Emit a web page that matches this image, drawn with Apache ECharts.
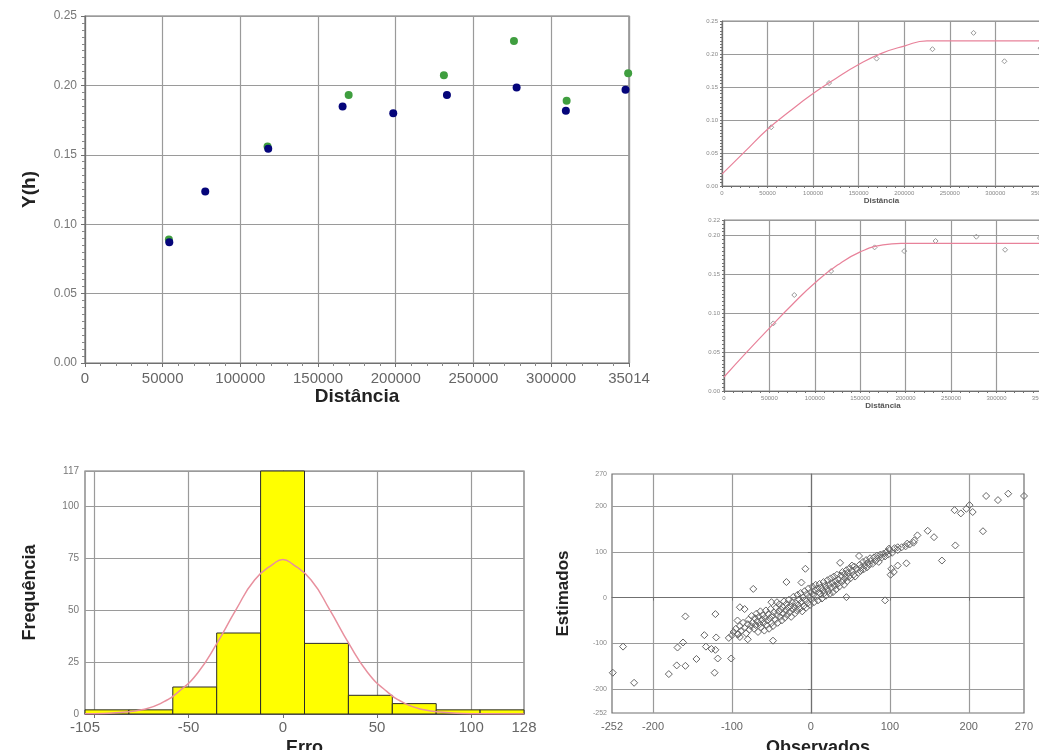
<!DOCTYPE html>
<html><head><meta charset="utf-8">
<script src="https://cdn.jsdelivr.net/npm/echarts@6/dist/echarts.min.js"></script>
<style>html,body{margin:0;padding:0;background:#fff}#c{width:1039px;height:750px}</style>
</head><body><div id="c"></div><script>
// ---- Panel 1: experimental variograms ----
const distBlue  = [54250, 77400, 117950, 165800, 198400, 232950, 277800, 309500, 347900];
const gammaBlue = [0.087, 0.1235, 0.1543, 0.1848, 0.180, 0.193, 0.1985, 0.1817, 0.1968];
const distGreen  = [54000, 117500, 169700, 231000, 276100, 310000, 349600];
const gammaGreen = [0.089, 0.156, 0.193, 0.2073, 0.232, 0.189, 0.2088];
const distMax = 350140;
const distTicks = [0, 50000, 100000, 150000, 200000, 250000, 300000];
const gammaTicks1 = [0, 0.05, 0.10, 0.15, 0.20, 0.25];

// ---- Panel 2 / 3: fitted models ----
const model2Dist  = [0, 25000, 50000, 75000, 100000, 125000, 150000, 175000, 200000, 225000, 350140];
const model2Gamma = [0.018, 0.052, 0.086, 0.114, 0.140, 0.163, 0.184, 0.201, 0.212, 0.220, 0.220];
const model3Dist  = [0, 25000, 50000, 75000, 100000, 125000, 150000, 175000, 195000, 350140];
const model3Gamma = [0.018, 0.050, 0.081, 0.111, 0.139, 0.162, 0.179, 0.188, 0.190, 0.190];

// ---- Panel 4: histogram of errors ----
const binEdges = [-105, -81.7, -58.4, -35.1, -11.8, 11.5, 34.8, 58.1, 81.4, 104.7, 128];
const binCounts = [2, 2, 13, 39, 117, 34, 9, 5, 2, 2];
const normX = [-105, -95, -85, -75, -65, -55, -45, -35, -25, -15, -5, 0, 5, 15, 25, 35, 45, 55, 65, 75, 85, 95, 105, 128];
const normY = [0.1, 0.3, 0.8, 2, 5, 11, 20, 34, 50, 64.5, 72.3, 74.4, 72.3, 64.5, 50, 34, 20, 11, 5, 2, 0.8, 0.3, 0.1, 0];
const errLabels = [-105, -50, 0, 50, 100, 128];
const errGrid = [-100, -50, 0, 50, 100];
const freqTicks = [0, 25, 50, 75, 100, 117];

// ---- Panel 5: observed vs estimated ----
const obsTicks = [-252, -200, -100, 0, 100, 200, 270];
const obsGrid = [-200, -100, 0, 100, 200];
const obsX = [
 -98,-95,-92,-90,-88,-86,-84,-82,-80,-79,-78,-76,-75,-74,-72,-71,-70,-69,-68,-67,-66,-65,-64,-63,-62,-61,-60,-59,-58,-57,-56,-55,-54,-53,-52,-51,-50,-49,-48,-47,
 -45,-44,-43,-42,-41,-40,-39,-38,-37,-36,-35,-34,-33,-32,-31,-30,-29,-28,-27,-26,-25,-24,-23,-22,-21,-20,-19,-18,-17,-16,-15,-14,-13,-12,-11,-10,-9,-8,-7,-6,-5,-4,-3,-2,-1,0,
 1,2,3,4,5,6,7,8,9,10,11,12,13,14,15,16,17,18,19,20,21,22,23,24,25,26,27,28,29,30,31,32,33,34,35,36,38,39,40,41,42,43,44,45,46,47,48,49,50,52,54,55,56,58,60,
 62,63,64,66,67,68,70,71,72,74,75,76,78,80,82,84,85,86,88,90,92,94,96,98,100,103,106,110,115,120,125,130,
 -251,-238,-224,-180,-170,-159,-169,-162,-159,-145,-135,-133,-126,-121,-121,-120,-118,-122,-104,-100,-93,-90,-80,-101,-93,-90,-84,-73,-50,-43,-48,-31,-12,-7,37,45,94,61,52,
 222,237,250,270,182,190,201,205,197,218,183,166,148,135,156,131,122,110,99,121,110,102,105,101
];
const estY = [
 -75,-68,-80,-62,-72,-55,-66,-78,-58,-48,-70,-62,-40,-55,-68,-45,-60,-35,-52,-75,-42,-58,-30,-65,-48,-38,-55,-72,-44,-28,-60,-50,-36,-68,-45,-25,-56,-40,-62,-32,
 -48,-22,-38,-55,-30,-15,-42,-26,-50,-20,-35,-8,-44,-28,-14,-38,-22,-5,-32,-18,-42,-10,-26,2,-20,-34,-12,-28,6,-16,-4,-24,10,-10,-30,0,-18,14,-6,-22,8,-12,20,2,-16,12,
 -4,24,6,-10,16,28,2,20,-6,12,30,8,22,-2,16,34,10,26,4,20,38,14,28,8,42,22,32,12,46,26,36,18,50,30,40,24,48,34,56,38,28,52,44,60,36,54,46,64,42,58,50,68,46,62,54,
 72,58,66,78,62,70,82,66,76,72,86,80,74,88,80,92,86,78,94,88,96,90,100,94,104,98,108,104,110,112,116,120,
 -164,-107,-186,-167,-148,-149,-109,-98,-41,-134,-82,-107,-112,-114,-36,-87,-133,-164,-88,-82,-80,-86,-91,-133,-50,-21,-25,19,-10,-10,-94,34,33,63,76,1,-6,91,70,
 222,213,227,222,191,184,202,187,194,145,114,81,146,136,132,125,118,110,107,75,70,63,56,50
];

const FONT = 'Liberation Sans, Arial, sans-serif';
const GRID_LINE = {show: true, lineStyle: {color: '#9a9a9a', width: 1.2}};
const AXIS_LINE = {show: true, lineStyle: {color: '#707070', width: 1.2}};

function pairs(xs, ys) { return xs.map((x, i) => [x, ys[i]]); }

const chart = echarts.init(document.getElementById('c'), null, {renderer: 'canvas'});

const option = {
  backgroundColor: '#ffffff',
  animation: false,
  textStyle: {fontFamily: FONT},
  grid: [
    {left: 85, top: 16, width: 544, height: 347, show: true, borderColor: '#707070', borderWidth: 1.2, outerBoundsMode: 'none', containLabel: false},
    {left: 722, top: 21, width: 319, height: 165, show: true, borderColor: '#8a8a8a', borderWidth: 1, outerBoundsMode: 'none', containLabel: false},
    {left: 724, top: 220, width: 318, height: 171, show: true, borderColor: '#8a8a8a', borderWidth: 1, outerBoundsMode: 'none', containLabel: false},
    {left: 85, top: 471, width: 439, height: 243, show: true, borderColor: '#707070', borderWidth: 1.2, outerBoundsMode: 'none', containLabel: false},
    {left: 612, top: 474, width: 412, height: 239, show: true, borderColor: '#707070', borderWidth: 1.2, outerBoundsMode: 'none', containLabel: false}
  ],
  xAxis: [
    {gridIndex: 0, type: 'value', min: 0, max: distMax, interval: 50000,
     axisLine: AXIS_LINE, splitLine: GRID_LINE,
     axisTick: {show: true, length: 4, lineStyle: {color: '#707070'}},
     minorTick: {show: true, splitNumber: 5, length: 3, lineStyle: {color: '#888'}},
     axisLabel: {fontSize: 15, color: '#666', margin: 8,
       formatter: v => v === distMax ? '35014' : (v === 350000 ? '' : String(v))},
     name: 'Distância', nameLocation: 'middle', nameGap: 22,
     nameTextStyle: {fontSize: 19, fontWeight: 'bold', color: '#222'}},
    {gridIndex: 1, type: 'value', min: 0, max: distMax, interval: 50000,
     axisLine: AXIS_LINE, splitLine: GRID_LINE,
     axisTick: {show: true, length: 2}, minorTick: {show: true, splitNumber: 5, length: 2},
     axisLabel: {fontSize: 6, color: '#888', margin: 4,
       formatter: v => v === distMax ? '' : String(v)},
     name: 'Distância', nameLocation: 'middle', nameGap: 11,
     nameTextStyle: {fontSize: 8, fontWeight: 'bold', color: '#555'}},
    {gridIndex: 2, type: 'value', min: 0, max: distMax, interval: 50000,
     axisLine: AXIS_LINE, splitLine: GRID_LINE,
     axisTick: {show: true, length: 2}, minorTick: {show: true, splitNumber: 5, length: 2},
     axisLabel: {fontSize: 6, color: '#888', margin: 4,
       formatter: v => v === distMax ? '' : String(v)},
     name: 'Distância', nameLocation: 'middle', nameGap: 10,
     nameTextStyle: {fontSize: 8, fontWeight: 'bold', color: '#555'}},
    {gridIndex: 3, type: 'value', min: -105, max: 128,
     axisLine: AXIS_LINE, splitLine: GRID_LINE,
     axisTick: {show: true, length: 4, customValues: errGrid},
     axisLabel: {fontSize: 15, color: '#666', margin: 6, customValues: errLabels},
     name: 'Erro', nameLocation: 'middle', nameGap: 25,
     nameTextStyle: {fontSize: 18, fontWeight: 'bold', color: '#222'}},
    {gridIndex: 4, type: 'value', min: -252, max: 270,
     axisLine: AXIS_LINE, splitLine: GRID_LINE,
     axisTick: {show: true, length: 3, customValues: obsGrid},
     axisLabel: {fontSize: 11, color: '#666', margin: 8, customValues: obsTicks},
     name: 'Observados', nameLocation: 'middle', nameGap: 26,
     nameTextStyle: {fontSize: 18, fontWeight: 'bold', color: '#222'}}
  ],
  yAxis: [
    {gridIndex: 0, type: 'value', min: 0, max: 0.25, interval: 0.05,
     axisLine: AXIS_LINE, splitLine: GRID_LINE,
     axisTick: {show: true, length: 4}, minorTick: {show: true, splitNumber: 10, length: 3, lineStyle: {color: '#888'}},
     axisLabel: {fontSize: 12, color: '#777', margin: 8, formatter: v => v.toFixed(2)},
     name: 'Y(h)', nameLocation: 'middle', nameGap: 46, nameRotate: 90,
     nameTextStyle: {fontSize: 19, fontWeight: 'bold', color: '#222'}},
    {gridIndex: 1, type: 'value', min: 0, max: 0.25, interval: 0.05,
     axisLine: AXIS_LINE, splitLine: GRID_LINE,
     axisTick: {show: true, length: 2}, minorTick: {show: true, splitNumber: 10, length: 2},
     axisLabel: {fontSize: 6, color: '#888', margin: 4, formatter: v => v.toFixed(2)}},
    {gridIndex: 2, type: 'value', min: 0, max: 0.22, interval: 0.05,
     axisLine: AXIS_LINE, splitLine: GRID_LINE,
     axisTick: {show: true, length: 2}, minorTick: {show: true, splitNumber: 10, length: 2},
     axisLabel: {fontSize: 6, color: '#888', margin: 4, formatter: v => v.toFixed(2)}},
    {gridIndex: 3, type: 'value', min: 0, max: 117, interval: 25,
     axisLine: AXIS_LINE, splitLine: GRID_LINE,
     axisTick: {show: true, length: 4}, minorTick: {show: true, splitNumber: 5, length: 3},
     axisLabel: {fontSize: 10, color: '#777', margin: 6},
     name: 'Frequência', nameLocation: 'middle', nameGap: 46, nameRotate: 90,
     nameTextStyle: {fontSize: 18, fontWeight: 'bold', color: '#222'}},
    {gridIndex: 4, type: 'value', min: -252, max: 270,
     axisLine: AXIS_LINE, splitLine: GRID_LINE,
     axisTick: {show: true, length: 3, customValues: obsGrid},
     axisLabel: {fontSize: 7, color: '#888', margin: 5, customValues: obsTicks},
     name: 'Estimados', nameLocation: 'middle', nameGap: 40, nameRotate: 90,
     nameTextStyle: {fontSize: 17, fontWeight: 'bold', color: '#222'}}
  ],
  series: [
    {type: 'scatter', xAxisIndex: 0, yAxisIndex: 0, symbolSize: 8, itemStyle: {color: '#3f9e3f', opacity: 1}, data: pairs(distGreen, gammaGreen)},
    {type: 'scatter', xAxisIndex: 0, yAxisIndex: 0, symbolSize: 8, itemStyle: {color: '#05057a', opacity: 1}, data: pairs(distBlue, gammaBlue)},
    {type: 'line', xAxisIndex: 1, yAxisIndex: 1, smooth: true, symbol: 'none', lineStyle: {color: '#e8829a', width: 1.2}, data: pairs(model2Dist, model2Gamma)},
    {type: 'scatter', xAxisIndex: 1, yAxisIndex: 1, symbol: 'diamond', symbolSize: 5, itemStyle: {color: 'rgba(255,255,255,0)', borderColor: '#999', borderWidth: 1, opacity: 1}, data: pairs(distGreen, gammaGreen)},
    {type: 'line', xAxisIndex: 2, yAxisIndex: 2, smooth: true, symbol: 'none', lineStyle: {color: '#e8829a', width: 1.2}, data: pairs(model3Dist, model3Gamma)},
    {type: 'scatter', xAxisIndex: 2, yAxisIndex: 2, symbol: 'diamond', symbolSize: 5, itemStyle: {color: 'rgba(255,255,255,0)', borderColor: '#999', borderWidth: 1, opacity: 1}, data: pairs(distBlue, gammaBlue)},
    {type: 'custom', xAxisIndex: 3, yAxisIndex: 3,
     encode: {x: [0, 1], y: 2},
     data: binCounts.map((c, i) => [binEdges[i], binEdges[i + 1], c]),
     renderItem: function (params, api) {
       const p0 = api.coord([api.value(0), 0]);
       const p1 = api.coord([api.value(1), api.value(2)]);
       return {type: 'rect', shape: {x: p0[0], y: p1[1], width: p1[0] - p0[0], height: p0[1] - p1[1]},
               style: {fill: '#ffff00', stroke: '#2a2a2a', lineWidth: 1}};
     }},
    {type: 'line', xAxisIndex: 3, yAxisIndex: 3, smooth: true, symbol: 'none', z: 5, lineStyle: {color: '#e8909e', width: 1.5}, data: pairs(normX, normY)},
    {type: 'scatter', xAxisIndex: 4, yAxisIndex: 4, symbol: 'diamond', symbolSize: 7,
     itemStyle: {color: 'rgba(255,255,255,0)', borderColor: '#666', borderWidth: 1, opacity: 1}, data: pairs(obsX, estY)}
  ]
};
chart.setOption(option);
</script></body></html>
